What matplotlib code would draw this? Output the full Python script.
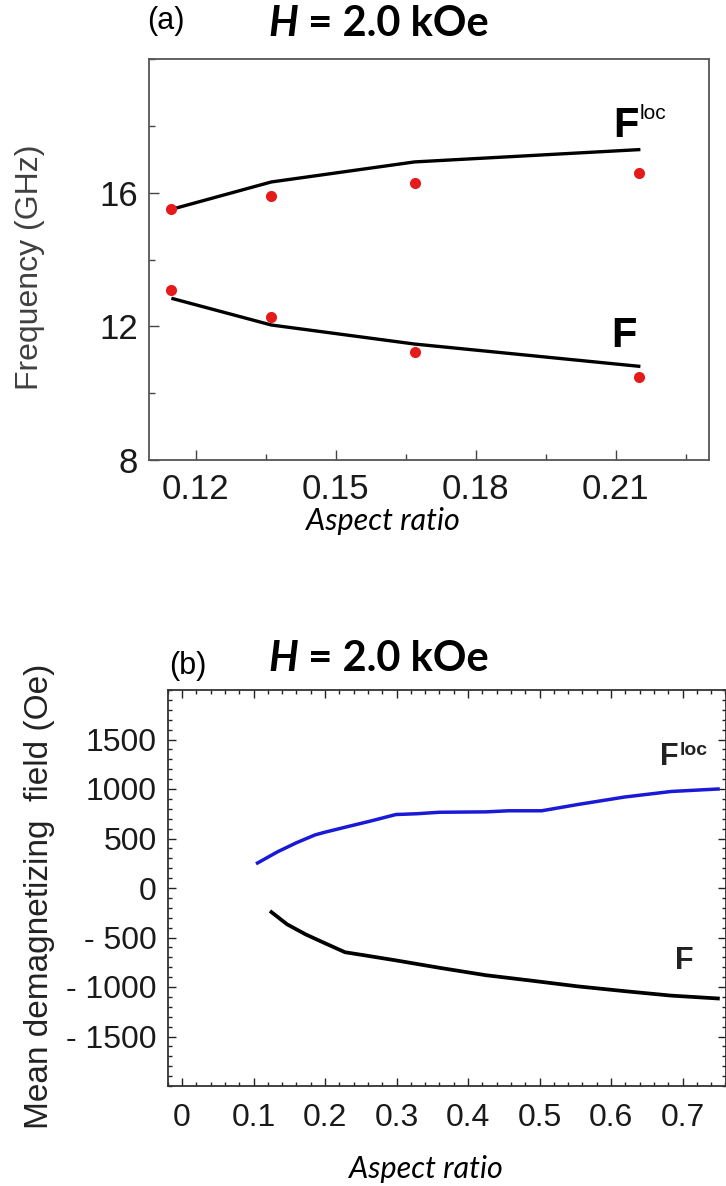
import matplotlib
matplotlib.use("Agg")
import matplotlib.pyplot as plt
from matplotlib.ticker import MultipleLocator, FixedLocator, FuncFormatter

# ---------------- data ----------------
# Panel (a): frequency vs aspect ratio
a_x_pts = [0.1148, 0.1362, 0.1669, 0.2149]
a_floc_pts = [15.52, 15.91, 16.29, 16.58]
a_f_pts = [13.10, 12.29, 11.22, 10.47]
a_x_line = [0.1148, 0.1362, 0.1669, 0.2153]
a_floc_line = [15.50, 16.32, 16.92, 17.29]
a_f_line = [12.84, 12.04, 11.47, 10.80]
a_xticks = [0.12, 0.15, 0.18, 0.21]
a_yticks = [8, 12, 16]

# Panel (b): mean demagnetizing field vs aspect ratio
b_floc_x = [0.1035, 0.134, 0.160, 0.186, 0.199, 0.231, 0.263, 0.299, 0.328,
            0.360, 0.425, 0.457, 0.503, 0.554, 0.619, 0.684, 0.752]
b_floc_y = [244, 367, 457, 536, 562, 619, 675, 742, 750,
            765, 769, 780, 780, 844, 919, 975, 1001]
b_f_x = [0.123, 0.147, 0.173, 0.199, 0.228, 0.257, 0.299, 0.360, 0.425,
         0.490, 0.554, 0.619, 0.684, 0.752]
b_f_y = [-232, -367, -469, -555, -649, -682, -731, -806, -881,
         -937, -994, -1042, -1087, -1117]
b_xticks = [0, 0.1, 0.2, 0.3, 0.4, 0.5, 0.6, 0.7]
b_yticks = [-1500, -1000, -500, 0, 500, 1000, 1500]

W, H = 726, 1186
fig = plt.figure(figsize=(W / 100, H / 100), dpi=100)


def fx(px):
    return px / W


def fy(py):
    return 1 - py / H


SANS = ["Liberation Sans", "DejaVu Sans"]
TITLE = ["Lato", "DejaVu Sans"]

# ---------------- panel (a) ----------------
ax1 = fig.add_axes([fx(149), fy(460), fx(709) - fx(149), fy(59) - fy(460)])
ax1.plot(a_x_line, a_floc_line, color="black", lw=2.4, solid_capstyle="butt", zorder=2)
ax1.plot(a_x_line, a_f_line, color="black", lw=2.4, solid_capstyle="butt", zorder=2)
ax1.plot(a_x_pts, a_floc_pts, "o", color="#e51a1a", ms=8, mec="none", zorder=3)
ax1.plot(a_x_pts, a_f_pts, "o", color="#e51a1a", ms=8, mec="none", zorder=3)
ax1.set_xlim(0.11, 0.23)
ax1.set_ylim(8, 20)
ax1.xaxis.set_major_locator(FixedLocator(a_xticks))
ax1.xaxis.set_minor_locator(MultipleLocator(0.015))
ax1.yaxis.set_major_locator(FixedLocator(a_yticks))
ax1.yaxis.set_minor_locator(MultipleLocator(2))
ax1.xaxis.set_major_formatter(FuncFormatter(lambda v, p: f"{v:.2f}"))
ax1.yaxis.set_major_formatter(FuncFormatter(lambda v, p: f"{v:.0f}"))
ax1.tick_params(which="both", direction="in", top=False, right=False, color="#444444", width=1)
ax1.tick_params(which="major", length=7)
ax1.tick_params(which="minor", length=4)
ax1.tick_params(axis="x", which="major", labelsize=25, pad=9)
ax1.tick_params(axis="y", which="major", labelsize=25, pad=8)
for lab in ax1.get_xticklabels() + ax1.get_yticklabels():
    lab.set_family(SANS)
    lab.set_color("#1a1a1a")
for sp in ax1.spines.values():
    sp.set_color("#555555")
    sp.set_linewidth(1.3)

ax1.text(0.2094, 17.66, "F", fontsize=30, fontweight="bold", family=SANS,
         ha="left", va="baseline")
ax1.text(0.2152, 18.20, "loc", fontsize=15, family=SANS, ha="left", va="baseline")
ax1.text(0.2090, 11.38, "F", fontsize=30, fontweight="bold", family=SANS,
         ha="left", va="baseline")

fig.text(fx(30), fy(267), "Frequency (GHz)", rotation=90, fontsize=23, family=SANS,
         color="#404040", ha="center", va="center")
fig.text(fx(383), fy(521), "Aspect ratio", fontsize=22, style="italic", family=TITLE,
         ha="center", va="center")

# titles
fig.text(fx(166), fy(21), "(a)", fontsize=22, family=SANS, ha="center", va="center")
t1 = fig.text(fx(268), fy(36), "H", fontsize=30, fontweight="bold", style="italic",
              family=TITLE, ha="left", va="baseline")
plt.annotate(" = 2.0 kOe", xy=(1, 0), xycoords=t1, fontsize=30, fontweight="bold",
             family=TITLE, ha="left", va="bottom", annotation_clip=False)

# ---------------- panel (b) ----------------
ax2 = fig.add_axes([fx(167.7), fy(1086), fx(725.5) - fx(167.7), fy(690) - fy(1086)])
ax2.plot(b_floc_x, b_floc_y, color="#1a1ad6", lw=2.5, solid_capstyle="butt")
ax2.plot(b_f_x, b_f_y, color="black", lw=2.7, solid_capstyle="butt")
ax2.set_xlim(-0.02, 0.76)
ax2.set_ylim(-2000, 2000)
ax2.xaxis.set_major_locator(FixedLocator(b_xticks))
ax2.xaxis.set_minor_locator(MultipleLocator(0.02))
ax2.yaxis.set_major_locator(FixedLocator(b_yticks))
ax2.yaxis.set_minor_locator(MultipleLocator(100))


def bx_fmt(v, p):
    return "0" if abs(v) < 1e-9 else f"{v:.1f}"


def by_fmt(v, p):
    if v < 0:
        return f"- {abs(v):.0f}"
    return f"{v:.0f}"


ax2.xaxis.set_major_formatter(FuncFormatter(bx_fmt))
ax2.yaxis.set_major_formatter(FuncFormatter(by_fmt))
ax2.tick_params(which="both", direction="in", top=True, right=True, color="#222222", width=1)
ax2.tick_params(which="major", length=6)
ax2.tick_params(which="minor", length=3)
ax2.tick_params(axis="x", which="major", labelsize=23, pad=12)
ax2.tick_params(axis="y", which="major", labelsize=23, pad=8)
for lab in ax2.get_xticklabels() + ax2.get_yticklabels():
    lab.set_family(SANS)
    lab.set_color("#1a1a1a")
for sp in ax2.spines.values():
    sp.set_color("#333333")
    sp.set_linewidth(1.3)

ax2.text(0.669, 1242, "F", fontsize=22, fontweight="bold", family=SANS,
         ha="left", va="baseline", color="#222222")
ax2.text(0.696, 1345, "loc", fontsize=14, fontweight="bold", family=SANS,
         ha="left", va="baseline", color="#222222")
ax2.text(0.690, -820, "F", fontsize=22, fontweight="bold", family=SANS,
         ha="left", va="baseline", color="#222222")

fig.text(fx(40), fy(896), "Mean demagnetizing  field (Oe)", rotation=90, fontsize=24,
         family=SANS, color="#222222", ha="center", va="center")
fig.text(fx(426), fy(1169), "Aspect ratio", fontsize=22, style="italic", family=TITLE,
         ha="center", va="center")

fig.text(fx(188), fy(666), "(b)", fontsize=22, family=SANS, ha="center", va="center")
t2 = fig.text(fx(268), fy(671), "H", fontsize=30, fontweight="bold", style="italic",
              family=TITLE, ha="left", va="baseline")
plt.annotate(" = 2.0 kOe", xy=(1, 0), xycoords=t2, fontsize=30, fontweight="bold",
             family=TITLE, ha="left", va="bottom", annotation_clip=False)

fig.savefig("out.png", dpi=100)
